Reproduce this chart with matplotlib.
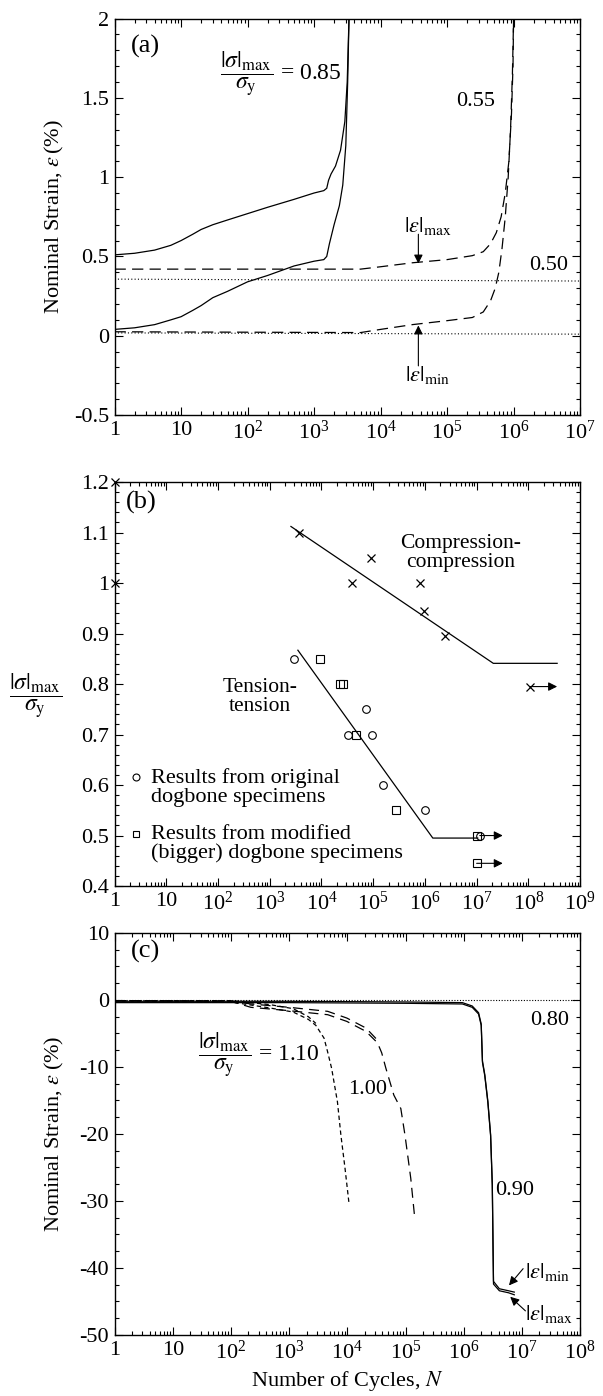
import numpy as np
import matplotlib
matplotlib.use('Agg')
import matplotlib.pyplot as plt
from matplotlib.ticker import LogLocator, MultipleLocator, FuncFormatter, NullFormatter

plt.rcParams['font.family'] = ['Liberation Serif', 'DejaVu Serif']
plt.rcParams['mathtext.fontset'] = 'stix'
plt.rcParams['axes.unicode_minus'] = False
plt.rcParams['font.size'] = 15

# ---- panel (a): strain history, tension-tension ----
a85_max_n = [1, 2, 4, 7, 10, 15, 20, 30, 50, 100, 200, 500, 1000, 1400, 1550, 1650, 1800, 2100, 2500, 2900, 3150, 3350]
a85_max_e = [0.51, 0.52, 0.54, 0.57, 0.60, 0.64, 0.67, 0.70, 0.73, 0.77, 0.81, 0.86, 0.90, 0.915, 0.93, 0.98, 1.02,
             1.07, 1.17, 1.35, 1.6, 2.0]
a85_min_n = [1, 2, 4, 7, 10, 15, 20, 30, 50, 100, 200, 500, 1000, 1400, 1550, 1700, 2000, 2400, 2700, 3000, 3200, 3350]
a85_min_e = [0.04, 0.05, 0.07, 0.10, 0.12, 0.16, 0.19, 0.24, 0.28, 0.34, 0.38, 0.44, 0.47, 0.48, 0.50, 0.58, 0.70,
             0.82, 0.95, 1.2, 1.6, 2.0]
a55_max_n = [1, 1000, 5000, 1e4, 3e4, 1e5, 2.4e5, 3.5e5, 4.5e5, 5.5e5, 6.5e5, 7.5e5, 8.5e5, 9.3e5, 9.8e5, 1.0e6]
a55_max_e = [0.42, 0.42, 0.42, 0.435, 0.46, 0.48, 0.505, 0.53, 0.58, 0.65, 0.75, 0.90, 1.1, 1.4, 1.7, 2.0]
a55_min_n = [1, 5000, 1e4, 3e4, 1e5, 2.4e5, 3.5e5, 4.5e5, 5.3e5, 6e5, 6.7e5, 7.5e5, 8.3e5, 9e5, 9.6e5, 1.0e6]
a55_min_e = [0.025, 0.02, 0.04, 0.07, 0.095, 0.115, 0.15, 0.22, 0.30, 0.40, 0.55, 0.75, 1.0, 1.3, 1.65, 2.0]
a50_n = [1, 1e7]
a50_max_e = [0.357, 0.345]
a50_min_e = [0.018, 0.01]

# ---- panel (b): S-N data ----
cc_n = [3600, 3.9e4, 9.1e4, 8.1e5, 9.6e5, 2.45e6, 1.07e8, 1, 1]
cc_s = [1.10, 1.00, 1.05, 1.00, 0.945, 0.895, 0.795, 1.2, 1.0]
orig_n = [2950, 3.2e4, 7.4e4, 9.4e4, 1.58e5, 1.0e6, 1.15e7]
orig_s = [0.85, 0.70, 0.75, 0.70, 0.60, 0.55, 0.50]
mod_n = [9400, 2.3e4, 2.6e4, 4.7e4, 2.8e5, 1.02e7, 1.0e7]
mod_s = [0.85, 0.80, 0.80, 0.70, 0.55, 0.50, 0.445]
cc_fit_n = [2570, 2.1e7, 3.6e8]
cc_fit_s = [1.112, 0.841, 0.841]
tt_fit_n = [3500, 1.42e6, 1.05e7]
tt_fit_s = [0.867, 0.495, 0.495]
runout_n = [1.07e8, 1.15e7, 1.0e7]
runout_s = [0.795, 0.50, 0.445]
runout_tip = [3.6e8, 3.2e7, 3.2e7]

# ---- panel (c): strain history, compression-compression ----
c80_n = [1, 1e8]
c80_e = [0.0, 0.0]
c90_max_n = [1, 1e3, 1e5, 9.5e5, 1.4e6, 1.8e6, 2.0e6, 2.1e6, 2.3e6, 2.6e6, 2.9e6, 3.1e6, 3.2e6, 3.25e6, 4.1e6, 5.9e6, 7.4e6]
c90_max_e = [-0.4, -0.4, -0.5, -0.6, -1.1, -2.1, -3.8, -9.3, -11.3, -15.3, -20.3, -27.7, -37.7, -42.4, -43.4, -43.7, -44.0]
c90_min_n = [1, 1e3, 1e5, 9.5e5, 1.4e6, 1.8e6, 2.0e6, 2.1e6, 2.3e6, 2.6e6, 2.9e6, 3.1e6, 3.2e6, 3.25e6, 4.1e6, 5.9e6, 7.4e6]
c90_min_e = [-0.2, -0.2, -0.3, -0.4, -0.9, -1.9, -3.6, -9.1, -11.1, -15.1, -20.1, -27.5, -37.5, -42.0, -43.1, -43.4, -43.6]
c100_max_n = [1, 100, 220, 1000, 4600, 9800, 2.1e4, 3.3e4, 3.9e4, 4.6e4, 6.3e4, 8.3e4, 9.8e4, 1.23e5, 1.45e5]
c100_max_e = [-0.1, -0.2, -1.1, -1.6, -2.2, -3.2, -4.7, -6.4, -7.9, -10.2, -14.2, -16.2, -20.2, -26.6, -32.8]
c100_min_n = [1, 100, 220, 1000, 4600, 9800, 2.1e4, 3.3e4]
c100_min_e = [-0.1, -0.15, -0.6, -1.1, -1.7, -2.7, -4.2, -6.0]
c110_max_n = [1, 100, 470, 1170, 2140, 2880, 3980, 4570, 5370, 6760, 7760, 9120, 1.07e4]
c110_max_e = [-0.1, -0.3, -1.2, -1.8, -2.9, -3.8, -5.7, -7.7, -10.2, -15.2, -20.2, -25.1, -30.4]
c110_min_n = [1, 100, 470, 1170, 2140, 2880]
c110_min_e = [-0.1, -0.1, -0.7, -1.3, -2.5, -3.5]


def log_label(v, pos):
    if v == 1:
        return '1'
    if v == 10:
        return '10'
    return r'$\mathdefault{10^{%d}}$' % round(np.log10(v))


def style_axes(ax, xmax, ymin, ymax, ymajor, yminor):
    ax.set_xscale('log')
    ax.set_xlim(1, xmax)
    ax.set_ylim(ymin, ymax)
    ax.xaxis.set_major_locator(LogLocator(base=10, numticks=20))
    ax.xaxis.set_minor_locator(LogLocator(base=10, subs=np.arange(2, 10), numticks=20))
    ax.xaxis.set_major_formatter(FuncFormatter(log_label))
    ax.xaxis.set_minor_formatter(NullFormatter())
    ax.yaxis.set_major_locator(MultipleLocator(ymajor))
    ax.yaxis.set_minor_locator(MultipleLocator(yminor))
    ax.yaxis.set_major_formatter(FuncFormatter(lambda v, p: '%g' % (round(v, 3) + 0.0)))
    ax.tick_params(which='both', direction='in', top=True, right=True, width=0.8)
    ax.tick_params(which='major', length=6, labelsize=16, pad=4)
    ax.tick_params(which='minor', length=3)
    for s in ax.spines.values():
        s.set_linewidth(1.0)


arrow = dict(arrowstyle='-|>', color='k', lw=0.8, mutation_scale=13, shrinkA=0, shrinkB=0)
frac = r'$\dfrac{|\sigma|_{\mathrm{max}}}{\sigma_{\mathrm{y}}}$'
eps_max = r'$|\varepsilon|_{\mathrm{max}}$'
eps_min = r'$|\varepsilon|_{\mathrm{min}}$'

fig = plt.figure(figsize=(6.03, 13.96), dpi=100)
ax1 = fig.add_axes([0.19, 0.7027, 0.772, 0.284])
ax2 = fig.add_axes([0.19, 0.3653, 0.772, 0.2894])
ax3 = fig.add_axes([0.19, 0.0437, 0.772, 0.288])

# (a)
style_axes(ax1, 1e7, -0.5, 2, 0.5, 0.1)
ax1.plot(a85_max_n, a85_max_e, 'k-', lw=0.9)
ax1.plot(a85_min_n, a85_min_e, 'k-', lw=0.9)
ax1.plot(a55_max_n, a55_max_e, 'k', lw=0.9, dashes=(9, 5))
ax1.plot(a55_min_n, a55_min_e, 'k', lw=0.9, dashes=(9, 5))
ax1.plot(a50_n, a50_max_e, 'k', lw=0.8, dashes=(1, 2))
ax1.plot(a50_n, a50_min_e, 'k', lw=0.8, dashes=(1, 2))
ax1.text(0.035, 0.93, '(a)', transform=ax1.transAxes, fontsize=19, va='center', ha='left')
ax1.text(2600, 1.65, frac + ' = 0.85', ha='right', va='center', fontsize=17)
ax1.text(5.2e5, 1.48, '0.55', ha='right', va='center', fontsize=16)
ax1.text(6.6e6, 0.44, '0.50', ha='right', va='center', fontsize=16)
ax1.text(5.2e4, 0.69, eps_max, ha='center', va='center', fontsize=16)
ax1.annotate('', xy=(3.7e4, 0.455), xytext=(3.7e4, 0.64), arrowprops=arrow)
ax1.text(5.0e4, -0.25, eps_min, ha='center', va='center', fontsize=16)
ax1.annotate('', xy=(3.7e4, 0.065), xytext=(3.7e4, -0.19), arrowprops=arrow)
ax1.set_ylabel(r'Nominal Strain, $\varepsilon\,$(%)', fontsize=16)
ax1.yaxis.set_label_coords(-0.105, 0.5)

# (b)
style_axes(ax2, 1e9, 0.4, 1.2, 0.1, 0.02)
ax2.plot(cc_fit_n, cc_fit_s, 'k-', lw=0.9)
ax2.plot(tt_fit_n, tt_fit_s, 'k-', lw=0.9)
ax2.plot(cc_n, cc_s, 'kx', ms=6, mew=0.9, clip_on=False)
ax2.plot(orig_n, orig_s, 'o', mfc='none', mec='k', ms=5.5, mew=0.8)
ax2.plot(mod_n, mod_s, 's', mfc='none', mec='k', ms=5.5, mew=0.8)
for n0, s0, n1 in zip(runout_n, runout_s, runout_tip):
    ax2.annotate('', xy=(n1, s0), xytext=(n0, s0), arrowprops=arrow)
ax2.text(0.025, 0.95, '(b)', transform=ax2.transAxes, fontsize=19, va='center', ha='left')
ax2.text(4.9e6, 1.06, 'Compression-\ncompression', ha='center', va='center', fontsize=15.5, linespacing=1.0)
ax2.text(650, 0.775, 'Tension-\ntension', ha='center', va='center', fontsize=15.5, linespacing=1.0)
ax2.plot([2.6], [0.616], 'o', mfc='none', mec='k', ms=5, mew=0.8)
ax2.plot([2.6], [0.503], 's', mfc='none', mec='k', ms=5, mew=0.8)
ax2.text(5.0, 0.596, 'Results from original\ndogbone specimens', ha='left', va='center',
         fontsize=16, linespacing=1.0)
ax2.text(5.0, 0.483, 'Results from modified\n(bigger) dogbone specimens', ha='left', va='center',
         fontsize=16, linespacing=1.0)
ax2.set_ylabel(frac, fontsize=17, rotation=0, va='center', ha='center')
ax2.yaxis.set_label_coords(-0.17, 0.47)

# (c)
style_axes(ax3, 1e8, -50, 10, 10, 2.5)
ax3.plot(c80_n, c80_e, 'k', lw=0.8, dashes=(1, 1.5))
ax3.plot(c90_max_n, c90_max_e, 'k-', lw=0.9)
ax3.plot(c90_min_n, c90_min_e, 'k-', lw=0.9)
ax3.plot(c100_max_n, c100_max_e, 'k', lw=0.9, dashes=(8, 5))
ax3.plot(c100_min_n, c100_min_e, 'k', lw=0.9, dashes=(8, 5))
ax3.plot(c110_max_n, c110_max_e, 'k', lw=0.9, dashes=(3.5, 2.5))
ax3.plot(c110_min_n, c110_min_e, 'k', lw=0.9, dashes=(3.5, 2.5))
ax3.text(0.035, 0.955, '(c)', transform=ax3.transAxes, fontsize=19, va='center', ha='left')
ax3.text(3400, -8.2, frac + ' = 1.10', ha='right', va='center', fontsize=17)
ax3.text(4.9e4, -13.4, '1.00', ha='right', va='center', fontsize=16)
ax3.text(7.5e6, -28.4, '0.90', ha='center', va='center', fontsize=16)
ax3.text(6.6e7, -3.0, '0.80', ha='right', va='center', fontsize=16)
ax3.text(1.15e7, -40.6, eps_min, ha='left', va='center', fontsize=16)
ax3.annotate('', xy=(6.0e6, -42.6), xytext=(1.05e7, -40.1), arrowprops=arrow)
ax3.text(1.15e7, -46.9, eps_max, ha='left', va='center', fontsize=16)
ax3.annotate('', xy=(6.3e6, -44.3), xytext=(1.15e7, -46.4), arrowprops=arrow)
ax3.set_ylabel(r'Nominal Strain, $\varepsilon\;$(%)', fontsize=16)
ax3.yaxis.set_label_coords(-0.105, 0.5)
ax3.set_xlabel(r'Number of Cycles, $N$', fontsize=16, labelpad=4)

fig.savefig('out.png', dpi=100)
